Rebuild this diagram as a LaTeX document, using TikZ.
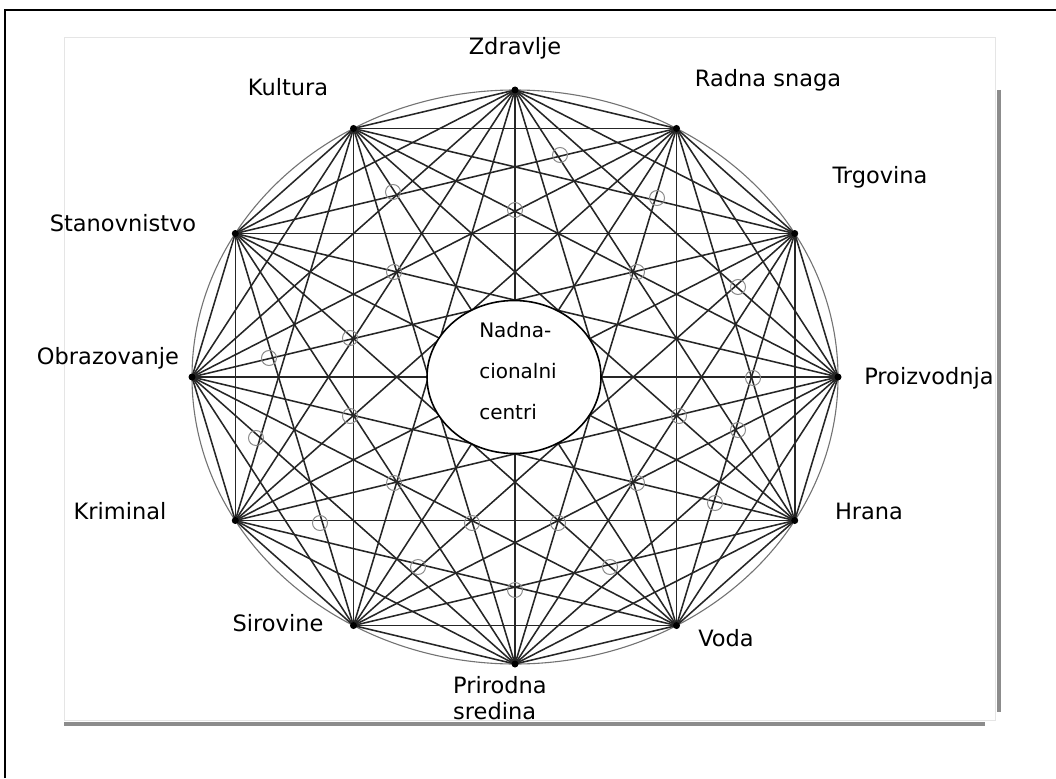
\documentclass[tikz,border=0pt]{standalone}
\usepackage{fontspec}
\setmainfont{DejaVu Sans}
\usetikzlibrary{shapes.geometric}
\begin{document}
\begin{tikzpicture}[x=1pt,y=-1pt,
  chord/.style={draw=black!85, line width=1.55pt},
  hub/.style={fill=black},
  ring/.style={draw=black!45, line width=1pt},
  lbl/.style={font=\fontsize{22.5}{26}\selectfont, inner sep=0pt, text=black},
  ctr/.style={font=\fontsize{20}{41}\selectfont, inner sep=0pt, align=left, text=black}]
\useasboundingbox (0,0) rectangle (1056,778);
% outer frame
\draw[black, line width=2pt] (5,778) -- (5,10) -- (1056,10);
% paper frame with shadow
\draw[black!10, line width=0.8pt] (64,37) rectangle (995,720);
\draw[black!45, line width=4pt] (999,90) -- (999,712);
\draw[black!45, line width=4pt] (64,724) -- (985,724);
% hubs
\foreach \k in {0,...,11}
  \coordinate (n\k) at ({515+323*cos(90-30*\k)},{377-287*sin(90-30*\k)});
% outline ellipse
\draw[black!55, line width=1.1pt] (515,377) ellipse [x radius=323, y radius=287];
% chords
\foreach \i in {0,...,10}{
  \pgfmathtruncatemacro\s{\i+1}
  \foreach \j in {\s,...,11}
    \draw[chord] (n\i) -- (n\j);
}
\foreach \k in {0,...,11}
  \fill[hub] (n\k) circle[radius=3.5];
% small circles
\foreach \p/\q in {560/155,393/192,515/210,657/198,738/287,269/358,256/438,320/523,
                   418/567,515/590,610/567,715/503,738/430,753/378,
                   394/272,637/272,350/338,350/416,679/416,394/483,637/483,472/523,558/523}
  \draw[ring] (\p,\q) circle[radius=7.5];
% centre
\node[ellipse, draw=black, line width=1.6pt, fill=white, minimum width=174pt, minimum height=153pt, inner sep=0pt] (centre) at (514,377) {};
\node[ctr, anchor=center] (centretext) at (518,371) {Nadna-\\cionalni\\centri};
% labels
\node[lbl] (l0) at (515,48) {Zdravlje};
\node[lbl] (l1) at (768,80) {Radna snaga};
\node[lbl] (l2) at (880,177) {Trgovina};
\node[lbl] (l3) at (929,378) {Proizvodnja};
\node[lbl] (l4) at (869,511) {Hrana};
\node[lbl] (l5) at (726,638) {Voda};
\node[lbl, align=left, anchor=north west] (l6) at (453,676) {Prirodna\\sredina};
\node[lbl] (l7) at (278,623) {Sirovine};
\node[lbl] (l8) at (120,511) {Kriminal};
\node[lbl] (l9) at (108,358) {Obrazovanje};
\node[lbl] (l10) at (123,223) {Stanovnistvo};
\node[lbl] (l11) at (288,87) {Kultura};
\end{tikzpicture}
\end{document}
